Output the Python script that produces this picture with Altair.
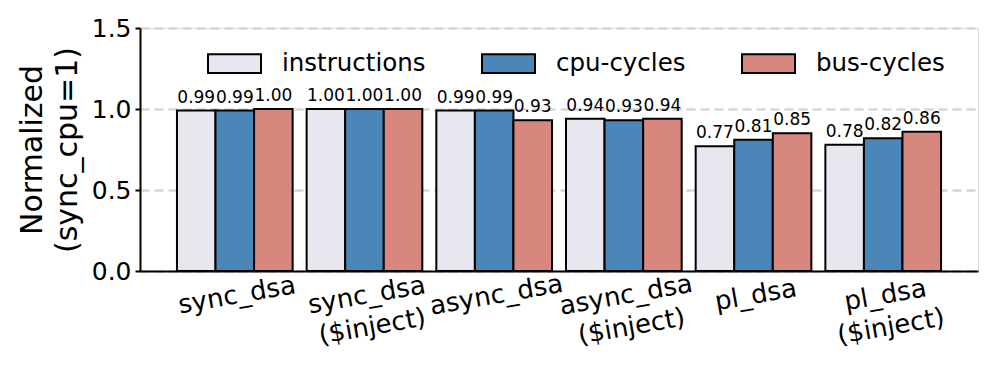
import altair as alt
import pandas as pd

categories = ["sync_dsa", "sync_dsa\n($inject)", "async_dsa", "async_dsa\n($inject)", "pl_dsa", "pl_dsa\n($inject)"]
series = ["instructions", "cpu-cycles", "bus-cycles"]
instructions = [0.99, 1.00, 0.99, 0.94, 0.77, 0.78]
cpu_cycles = [0.99, 1.00, 0.99, 0.93, 0.81, 0.82]
bus_cycles = [1.00, 1.00, 0.93, 0.94, 0.85, 0.86]
colors = ["#e8e6ee", "#4a87b8", "#d8877f"]
y_ticks = [0.0, 0.5, 1.0, 1.5]

rows = []
for s, vals in zip(series, [instructions, cpu_cycles, bus_cycles]):
    for c, v in zip(categories, vals):
        rows.append({"category": c, "series": s, "value": v})
df = pd.DataFrame(rows)

FONT = "DejaVu Sans"

x = alt.X("category:N", sort=categories, title=None,
          scale=alt.Scale(paddingInner=0.108, paddingOuter=0.285),
          axis=alt.Axis(labelAngle=-10, labelAlign="center", labelBaseline="top",
                        labelFontSize=26, labelFont=FONT, labelColor="black",
                        labelLineHeight=32, labelPadding=11,
                        labelExpr="split(datum.label, '\\n')",
                        ticks=False, domainColor="black", domainWidth=2,
                        grid=False))
xoff = alt.XOffset("series:N", sort=series, scale=alt.Scale(paddingInner=0, paddingOuter=0))
y = alt.Y("value:Q", scale=alt.Scale(domain=[0, 1.5], nice=False, zero=True),
          title=["Normalized", "(sync_cpu=1)"],
          axis=alt.Axis(values=y_ticks, format=".1f", labelFontSize=25, labelFont=FONT,
                        labelColor="black", labelPadding=4,
                        tickSize=5, tickColor="black", tickWidth=2,
                        domainColor="black", domainWidth=2,
                        grid=True, gridColor="#d6d6d6", gridDash=[9, 5], gridWidth=2.4,
                        titleFontSize=30, titleFont=FONT, titleFontWeight="normal",
                        titleColor="black", titleLineHeight=35, titlePadding=9))

bars = alt.Chart(df).mark_bar(stroke="black", strokeWidth=2).encode(
    x=x, xOffset=xoff, y=y,
    fill=alt.Fill("series:N", sort=series,
                  scale=alt.Scale(domain=series, range=colors),
                  legend=alt.Legend(title=None, orient="none", legendX=67, legendY=8,
                                    direction="horizontal", columns=3, padding=0,
                                    symbolType="M-1,-0.35L1,-0.35L1,0.35L-1,0.35Z",
                                    symbolSize=2809, symbolStrokeColor="black",
                                    symbolStrokeWidth=2, symbolOpacity=1,
                                    labelFontSize=24.5, labelFont=FONT, labelColor="black",
                                    labelOffset=20, columnPadding=52)),
)

labels = alt.Chart(df).mark_text(baseline="bottom", dy=-4, fontSize=17, font=FONT,
                                 color="black").encode(
    x=alt.X("category:N", sort=categories),
    xOffset=xoff,
    y="value:Q",
    text=alt.Text("value:Q", format=".2f"),
)

chart = alt.layer(bars, labels).properties(
    width=838, height=243,
    autosize=alt.AutoSizeParams(type="none"),
    padding={"left": 132, "top": 20, "right": 10, "bottom": 90},
).configure_view(stroke=None).configure(background="white")

chart.save("out.html", embed_options={"renderer": "svg", "actions": False})
